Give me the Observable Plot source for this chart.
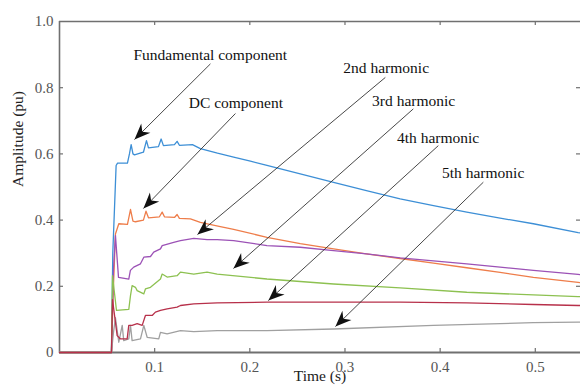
<!DOCTYPE html>
<html><head><meta charset="utf-8">
<script src="https://cdn.jsdelivr.net/npm/d3@7"></script>
<script src="https://cdn.jsdelivr.net/npm/@observablehq/plot@0.6"></script>
<style>
html,body{margin:0;padding:0;background:#fff;overflow:hidden}
#chart svg, #chart svg text{font-family:"Liberation Serif","Times New Roman",serif !important}
</style>
</head><body><div id="chart"></div>
<script>
// ---- data ----
const seriesNames = ["Fundamental component", "DC component", "2nd harmonic", "3rd harmonic", "4th harmonic", "5th harmonic"];
const seriesColors = ["#3d8fd6", "#ee7d4a", "#9c52b6", "#8dc151", "#b7304a", "#a0a0a0"];

const fundT = [0, 0.0546, 0.056, 0.0595, 0.061, 0.0714, 0.0735, 0.0753, 0.0772, 0.0788, 0.0882, 0.0914, 0.0935, 0.104, 0.1068, 0.1092, 0.1208, 0.1236, 0.126, 0.1397, 0.148, 0.166, 0.183, 0.2006, 0.218, 0.253, 0.288, 0.3225, 0.358, 0.393, 0.428, 0.463, 0.498, 0.545, 0.5475];
const fundV = [0, 0, 0.3, 0.565, 0.572, 0.572, 0.60, 0.628, 0.60, 0.597, 0.605, 0.64, 0.618, 0.622, 0.645, 0.625, 0.628, 0.638, 0.626, 0.628, 0.616, 0.602, 0.59, 0.578, 0.565, 0.54, 0.514, 0.489, 0.464, 0.444, 0.424, 0.406, 0.389, 0.362, 0.361];

const dcT = [0, 0.0546, 0.0567, 0.0588, 0.0623, 0.0714, 0.0746, 0.0772, 0.0798, 0.0882, 0.0909, 0.0935, 0.105, 0.1079, 0.1103, 0.1208, 0.1236, 0.126, 0.1376, 0.148, 0.169, 0.183, 0.218, 0.253, 0.288, 0.3225, 0.358, 0.393, 0.428, 0.463, 0.498, 0.545, 0.5475];
const dcV = [0, 0, 0.2, 0.358, 0.389, 0.387, 0.432, 0.397, 0.395, 0.40, 0.427, 0.407, 0.41, 0.424, 0.41, 0.408, 0.417, 0.405, 0.404, 0.393, 0.38, 0.372, 0.348, 0.329, 0.313, 0.298, 0.284, 0.27, 0.256, 0.242, 0.227, 0.212, 0.211];

const h2T = [0, 0.0546, 0.0567, 0.0588, 0.062, 0.0728, 0.0745, 0.078, 0.0851, 0.0886, 0.0956, 0.099, 0.1061, 0.1079, 0.12, 0.1271, 0.1411, 0.1551, 0.1657, 0.183, 0.218, 0.253, 0.288, 0.3225, 0.358, 0.393, 0.428, 0.463, 0.498, 0.545, 0.5475];
const h2V = [0, 0, 0.25, 0.353, 0.227, 0.222, 0.248, 0.258, 0.268, 0.288, 0.29, 0.303, 0.313, 0.323, 0.333, 0.338, 0.345, 0.341, 0.341, 0.338, 0.323, 0.318, 0.308, 0.298, 0.286, 0.277, 0.268, 0.258, 0.248, 0.236, 0.235];

const h3T = [0, 0.0546, 0.0557, 0.0599, 0.0728, 0.0746, 0.0763, 0.0798, 0.0816, 0.0886, 0.0903, 0.0956, 0.1061, 0.1079, 0.1131, 0.1236, 0.1271, 0.1411, 0.1551, 0.1657, 0.218, 0.288, 0.358, 0.428, 0.498, 0.545, 0.5475];
const h3V = [0, 0, 0.232, 0.127, 0.13, 0.172, 0.202, 0.197, 0.187, 0.177, 0.192, 0.197, 0.222, 0.237, 0.228, 0.232, 0.243, 0.237, 0.243, 0.237, 0.222, 0.207, 0.195, 0.182, 0.174, 0.169, 0.169];

const h4T = [0, 0.0546, 0.0557, 0.0606, 0.0641, 0.0711, 0.0728, 0.0763, 0.0816, 0.0869, 0.0903, 0.0974, 0.1008, 0.1061, 0.1131, 0.1236, 0.1271, 0.1411, 0.1657, 0.218, 0.288, 0.358, 0.428, 0.498, 0.545, 0.5475];
const h4V = [0, 0, 0.16, 0.051, 0.041, 0.041, 0.082, 0.082, 0.087, 0.082, 0.112, 0.112, 0.122, 0.127, 0.132, 0.137, 0.142, 0.147, 0.15, 0.152, 0.152, 0.152, 0.15, 0.145, 0.142, 0.142];

const h5T = [0, 0.0546, 0.0567, 0.0588, 0.0623, 0.0659, 0.0675, 0.0728, 0.0746, 0.0763, 0.0851, 0.0886, 0.0921, 0.1043, 0.1061, 0.1131, 0.1271, 0.1411, 0.1657, 0.218, 0.288, 0.393, 0.498, 0.545, 0.5475];
const h5V = [0, 0, 0.06, 0.105, 0.031, 0.082, 0.036, 0.041, 0.082, 0.036, 0.041, 0.082, 0.046, 0.041, 0.061, 0.056, 0.066, 0.063, 0.066, 0.066, 0.071, 0.082, 0.09, 0.092, 0.092];

const xTicks = [0.1, 0.2, 0.3, 0.4, 0.5];
const yTicks = [0, 0.2, 0.4, 0.6, 0.8, 1.0];

// annotation text anchors and arrows (tail -> head) in data units
const labelT = [0.0777, 0.1358, 0.2983, 0.3285, 0.3547, 0.402];
const labelV = [0.900, 0.753, 0.859, 0.761, 0.647, 0.541];
const arrowT1 = [0.1586, 0.1849, 0.3424, 0.3718, 0.3981, 0.4454];
const arrowV1 = [0.872, 0.722, 0.831, 0.736, 0.625, 0.5145];
const arrowT2 = [0.0788, 0.0882, 0.145, 0.1828, 0.2195, 0.290];
const arrowV2 = [0.6435, 0.435, 0.3565, 0.254, 0.157, 0.0785];

// ---- build tables ----
const seriesT = [fundT, dcT, h2T, h3T, h4T, h5T];
const seriesV = [fundV, dcV, h2V, h3V, h4V, h5V];
const tables = seriesNames.map((name, k) => {
  const n = Math.min(seriesT[k].length, seriesV[k].length);
  return d3.range(n).map(i => ({name, t: seriesT[k][i], v: seriesV[k][i]}));
});
const labels = seriesNames.map((name, i) => ({name, t: labelT[i], v: labelV[i]}));
const arrows = seriesNames.map((name, i) => ({x1: arrowT1[i], y1: arrowV1[i], x2: arrowT2[i], y2: arrowV2[i]}));

const W = 580, H = 387, mL = 59, mR = 0, mT = 21, mB = 35;
const innerW = W - mL - mR, innerH = H - mT - mB;
const axisColor = "#707070";
const serif = "'Liberation Serif', 'Times New Roman', serif";
const order = [0, 1, 2, 3, 5, 4];

const plot = Plot.plot({
  width: W, height: H,
  marginLeft: mL, marginRight: mR, marginTop: mT, marginBottom: mB,
  style: {fontSize: "15px", background: "#fff", overflow: "visible"},
  x: {domain: [0, 0.5475]},
  y: {domain: [0, 1]},
  marks: [
    // axis lines
    Plot.ruleX([0], {stroke: axisColor, strokeWidth: 1.6}),
    Plot.ruleY([1], {stroke: axisColor, strokeWidth: 1.4}),
    // inward ticks
    Plot.tickY(yTicks.filter(d => d > 0 && d < 1), {y: d => d, insetRight: innerW - 4, stroke: axisColor, strokeWidth: 1.2}),
    Plot.tickY(yTicks.filter(d => d > 0 && d < 1), {y: d => d, insetLeft: innerW - 4, stroke: axisColor, strokeWidth: 1.2}),
    Plot.tickX(xTicks, {x: d => d, insetTop: innerH - 4, stroke: axisColor, strokeWidth: 1.2}),
    Plot.tickX(xTicks, {x: d => d, insetBottom: innerH - 4, stroke: axisColor, strokeWidth: 1.2}),
    Plot.ruleY([0], {stroke: axisColor, strokeWidth: 2}),
    // tick labels
    Plot.axisX({ticks: xTicks, tickSize: 0, tickPadding: 9, tickFormat: d => d.toFixed(1), label: null, fill: "#555", fontSize: 15, fontFamily: serif}),
    Plot.axisY({ticks: yTicks, tickSize: 0, tickPadding: 6, tickFormat: d => d === 0 ? "0" : d.toFixed(1), label: null, fill: "#555", fontSize: 15, fontFamily: serif}),
    // curves
    ...order.map(k => Plot.line(tables[k], {x: "t", y: "v", stroke: seriesColors[k], strokeWidth: 1.3, strokeLinejoin: "round"})),
    // annotation arrows
    Plot.link(arrows, {x1: "x1", y1: "y1", x2: "x2", y2: "y2", stroke: "#333", strokeWidth: 0.9}),
    Plot.text(labels, {x: "t", y: "v", text: "name", textAnchor: "start", fill: "#111", fontSize: 15.5, fontFamily: serif}),
    // axis titles
    Plot.text(["Amplitude (pu)"], {frameAnchor: "left", dx: -41, rotate: -90, fill: "#222", fontSize: 15.5, fontFamily: serif}),
    Plot.text(["Time (s)"], {frameAnchor: "bottom", dy: 28, fill: "#222", fontSize: 15.5, fontFamily: serif})
  ]
});

// filled "vback" arrowheads on the annotation links
(function addHeads(svg) {
  const ns = "http://www.w3.org/2000/svg";
  const defs = document.createElementNS(ns, "defs");
  const m = document.createElementNS(ns, "marker");
  m.setAttribute("id", "vback-head");
  m.setAttribute("viewBox", "-17 -8 19 16");
  m.setAttribute("markerWidth", "19");
  m.setAttribute("markerHeight", "16");
  m.setAttribute("markerUnits", "userSpaceOnUse");
  m.setAttribute("orient", "auto");
  m.setAttribute("refX", "0");
  m.setAttribute("refY", "0");
  const p = document.createElementNS(ns, "path");
  p.setAttribute("d", "M0,0L-16,-6.5L-11,0L-16,6.5Z");
  p.setAttribute("fill", "#111");
  m.appendChild(p);
  defs.appendChild(m);
  svg.insertBefore(defs, svg.firstChild);
  svg.querySelectorAll('g[aria-label="link"] path').forEach(el => el.setAttribute("marker-end", "url(#vback-head)"));
})(plot);

document.getElementById("chart").appendChild(plot);
</script>
</body></html>
